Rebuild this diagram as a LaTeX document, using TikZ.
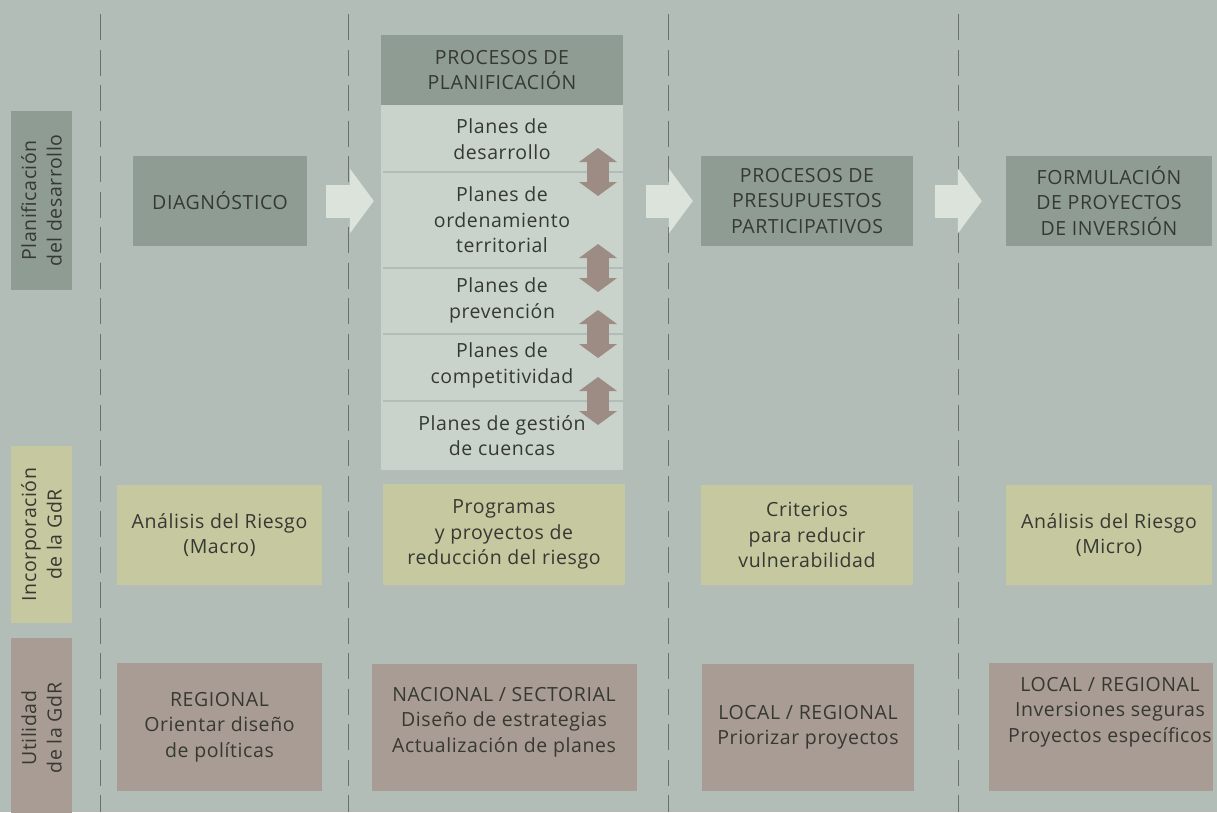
\documentclass[tikz,border=0pt]{standalone}
\usepackage{fontspec}
\setmainfont[LetterSpace=3]{Open Sans}
\usetikzlibrary{arrows.meta, positioning}

\definecolor{bgcol}{HTML}{B3BDB7}
\definecolor{darkcol}{HTML}{8E9C94}
\definecolor{lightcol}{HTML}{C9D3CB}
\definecolor{flowcol}{HTML}{DCE3DA}
\definecolor{yelcol}{HTML}{C6C8A0}
\definecolor{brncol}{HTML}{A99C94}
\definecolor{dblcol}{HTML}{9C8C84}
\definecolor{dashcol}{HTML}{6B706C}
\definecolor{txtcol}{HTML}{363932}

\tikzset{
  txt/.style={align=center, text=txtcol, inner sep=0pt, font=\fontsize{19.5}{25.5}\selectfont},
  boxdark/.style={txt, fill=darkcol},
  boxyel/.style={txt, fill=yelcol},
  boxbrn/.style={txt, fill=brncol},
  rowlbl/.style={txt, rotate=90, minimum height=61pt},
  dashline/.style={draw=dashcol, line width=1pt, dash pattern=on 26pt off 9.5pt},
  sepline/.style={draw=bgcol, line width=2pt},
  flow/.style={draw=flowcol, line width=33pt, -{Triangle[length=24pt, width=65pt, line width=0pt]}},
  dblarr/.style={draw=dblcol, line width=22pt, {Triangle[length=14pt, width=38pt, line width=0pt]}-{Triangle[length=14pt, width=38pt, line width=0pt]}}
}

\begin{document}
\begin{tikzpicture}[x=1pt, y=-1pt]
    \useasboundingbox (0,0) rectangle (1217,812);
    \fill[bgcol] (0,0) rectangle (1217,812);

    % columnas
    \foreach \x in {100,348,668,958}
        \draw[dashline] (\x,14) -- (\x,812);

    % etiquetas de filas
    \node[rowlbl, fill=darkcol, minimum width=179pt] (rplan) at (41.5,200.5) {Planificación\\del desarrollo};
    \node[rowlbl, fill=yelcol, minimum width=177pt] (rinc) at (41.5,534.5) {Incorporación\\de la GdR};
    \node[rowlbl, fill=brncol, minimum width=180pt] (rutil) at (41.5,728) {Utilidad\\de la GdR};

    % fila 1: planificacion del desarrollo
    \node[boxdark, minimum width=174pt, minimum height=90pt] (diag) at (220,201) {DIAGNÓSTICO};
    \node[boxdark, minimum width=242pt, minimum height=70pt] (hdr) at (502,70) {PROCESOS DE\\PLANIFICACIÓN};
    \node[fill=lightcol, inner sep=0pt, minimum width=242pt, minimum height=365pt] (body) at (502,287.5) {};
    \node[boxdark, minimum width=212pt, minimum height=90pt] (presu) at (807,201) {PROCESOS DE\\PRESUPUESTOS\\PARTICIPATIVOS};
    \node[boxdark, minimum width=206pt, minimum height=90pt] (form) at (1109,201) {FORMULACIÓN\\DE PROYECTOS\\DE INVERSIÓN};

    \node[txt] (p1) at (502,139) {Planes de\\desarrollo};
    \node[txt] (p2) at (502,220) {Planes de\\ordenamiento\\territorial};
    \node[txt] (p3) at (502,300.5) {Planes de\\prevención};
    \node[txt] (p4) at (502,365.5) {Planes de\\competitividad};
    \node[txt] (p5) at (502,435.5) {Planes de gestión\\de cuencas};

    \coordinate (s1) at (598,172);
    \coordinate (s2) at (598,268);
    \coordinate (s3) at (598,334);
    \coordinate (s4) at (598,401);
    \foreach \s in {s1,s2,s3,s4} {
        \draw[sepline] ([xshift=2pt]body.west |- \s) -- (body.east |- \s);
        \draw[dblarr] ([yshift=24pt]\s) -- ([yshift=-24pt]\s);
    }

    \draw[flow] ([xshift=19pt]diag.east) -- ([xshift=-7pt]diag.east -| body.west);
    \draw[flow] ([xshift=23pt]body.east |- presu.west) -- ([xshift=-8pt]presu.west);
    \draw[flow] ([xshift=22pt]presu.east) -- ([xshift=-24pt]form.west);

    % fila 2: incorporacion de la GdR
    \node[boxyel, minimum width=205pt, minimum height=100pt] (inc1) at (219.5,535) {Análisis del Riesgo\\(Macro)};
    \node[boxyel, minimum width=242pt, minimum height=101pt] (inc2) at (504,534.5) {Programas\\y proyectos de\\reducción del riesgo};
    \node[boxyel, minimum width=212pt, minimum height=100pt] (inc3) at (807,535) {Criterios\\para reducir\\vulnerabilidad};
    \node[boxyel, minimum width=206pt, minimum height=100pt] (inc4) at (1109,535) {Análisis del Riesgo\\(Micro)};

    % fila 3: utilidad de la GdR
    \node[boxbrn, minimum width=205pt, minimum height=128pt] (ut1) at (219.5,727) {REGIONAL\\Orientar diseño\\de políticas};
    \node[boxbrn, minimum width=265pt, minimum height=127pt] (ut2) at (504.5,727.5) {};
    \node[txt] (ut2txt) at (504,722) {NACIONAL / SECTORIAL\\Diseño de estrategias\\Actualización de planes};
    \node[boxbrn, minimum width=212pt, minimum height=127pt] (ut3) at (808,727.5) {LOCAL / REGIONAL\\Priorizar proyectos};
    \node[boxbrn, minimum width=224pt, minimum height=128pt] (ut4) at (1101,727) {};
    \node[txt] (ut4txt) at (1110,712) {LOCAL / REGIONAL\\Inversiones seguras\\Proyectos específicos};
\end{tikzpicture}
\end{document}
